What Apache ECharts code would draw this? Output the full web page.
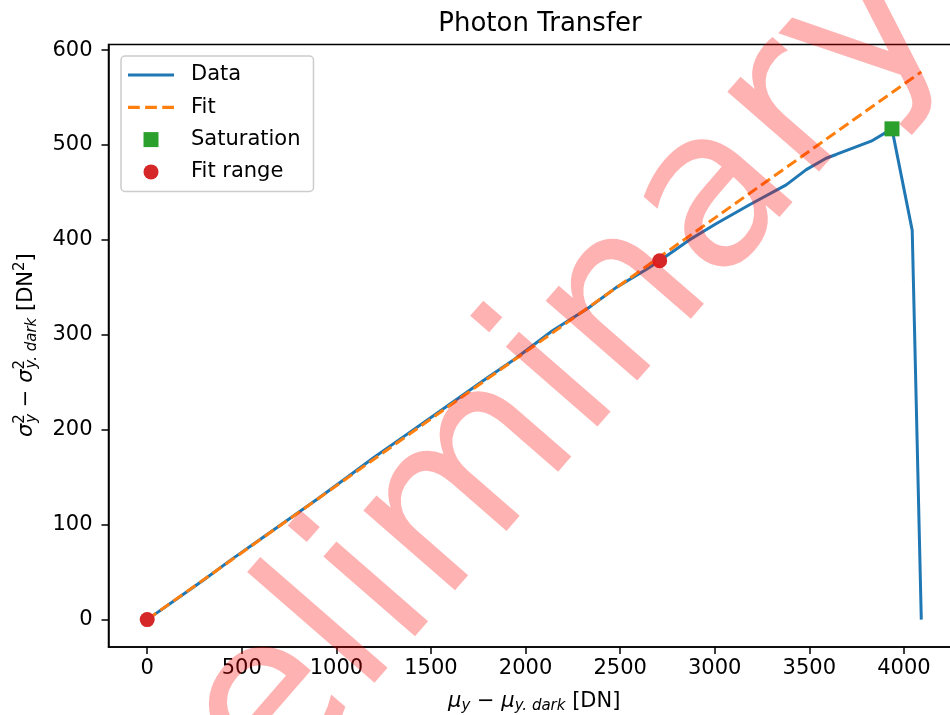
<!DOCTYPE html>
<html>
<head>
<meta charset="utf-8">
<script src="https://cdn.jsdelivr.net/npm/echarts@6/dist/echarts.min.js"></script>
<style>html,body{margin:0;padding:0;background:#fff}#c{width:950px;height:715px}</style>
</head>
<body>
<div id="c"></div>
<script>
// ---- data ----
const dataX = [0, 150, 300, 450, 600, 750, 900, 1050, 1200, 1350, 1500, 1650, 1800, 1940, 2140, 2330, 2480, 2640, 2709, 2866, 3007, 3184, 3378, 3484, 3589, 3642, 3827, 3937, 4044, 4092];
const dataY = [0, 21, 42, 64, 85, 106, 127, 149, 171, 192, 213, 234, 255, 274, 304, 328, 350, 369, 378, 400, 417, 437, 458, 474, 486, 490, 504, 517, 410, 0];
const fitX = [0, 4092];
const fitY = [0, 577];
const saturationX = [3937];
const saturationY = [517];
const fitRangeX = [0, 2709];
const fitRangeY = [0, 378];
const xTicks = [0, 500, 1000, 1500, 2000, 2500, 3000, 3500, 4000];
const yTicks = [0, 100, 200, 300, 400, 500, 600];
const seriesNames = ['Data', 'Fit', 'Saturation', 'Fit range'];
const titleText = 'Photon Transfer';
const watermarkText = 'Preliminary';

const zip = (xs, ys) => xs.map((x, i) => [x, ys[i]]);
const FONT = 'DejaVu Sans';

const chart = echarts.init(document.getElementById('c'), null, {renderer: 'canvas'});

const axisCommon = {
  type: 'value',
  splitLine: {show: false},
  axisLine: {show: true, onZero: false, lineStyle: {color: '#000', width: 1.5}},
  axisTick: {show: true, inside: false, length: 7, lineStyle: {color: '#000', width: 1.5}},
  axisLabel: {color: '#000', fontFamily: FONT, fontSize: 21, formatter: v => String(v)}
};

const richBase = {
  n: {fontFamily: FONT, fontSize: 21, color: '#000'},
  it: {fontFamily: FONT, fontSize: 21, fontStyle: 'italic', color: '#000'},
  sup: {fontFamily: FONT, fontSize: 15, color: '#000', padding: [0, 0, 14, 0], width: 1, align: 'left'},
  sup2: {fontFamily: FONT, fontSize: 15, color: '#000', padding: [0, 0, 14, 0], align: 'left'},
  sub: {fontFamily: FONT, fontSize: 15, fontStyle: 'italic', color: '#000', padding: [10, 0, 0, 0], align: 'left'}
};

chart.setOption({
  animation: false,
  backgroundColor: '#fff',
  title: {
    text: titleText,
    left: 535,
    top: 6,
    textAlign: 'center',
    textStyle: {fontFamily: FONT, fontSize: 26, fontWeight: 'normal', color: '#000'}
  },
  grid: {
    left: 108.5, right: -10, top: 44.5, bottom: 68,
    show: true, borderColor: '#000', borderWidth: 1.5, backgroundColor: 'transparent',
    containLabel: false, outerBoundsMode: 'none'
  },
  legend: {
    orient: 'vertical',
    left: 121, top: 56,
    padding: [8.5, 13, 9, 7],
    itemWidth: 46, itemHeight: 15, itemGap: 11.3,
    symbolKeepAspect: true,
    backgroundColor: 'rgba(255,255,255,0.8)',
    borderColor: '#cccccc', borderWidth: 1.5, borderRadius: 4,
    textStyle: {fontFamily: FONT, fontSize: 21, color: '#000', padding: [0, 0, 0, 12]},
    data: [
      {name: seriesNames[0], icon: 'path://M0,0H46V3H0Z'},
      {name: seriesNames[1], icon: 'path://M0,0H11V3H0Z M16,0H27V3H16Z M32,0H43V3H32Z'},
      {name: seriesNames[2], icon: 'path://M0,0H10V10H0Z'},
      {name: seriesNames[3], icon: 'circle'}
    ],
    selectedMode: false
  },
  xAxis: Object.assign({}, axisCommon, {
    min: -204.6, max: 4296.6,
    axisTick: Object.assign({}, axisCommon.axisTick, {customValues: xTicks}),
    axisLabel: Object.assign({}, axisCommon.axisLabel, {customValues: xTicks, margin: 11}),
    name: '{it|μ}{sub|y}{n| − }{it|μ}{sub|y. dark}{n| [DN]}',
    nameLocation: 'middle',
    nameGap: 42,
    nameTextStyle: {rich: {
      n: richBase.n, it: richBase.it,
      sub: {fontFamily: FONT, fontSize: 15, fontStyle: 'italic', color: '#000', padding: [10, 0, 0, 0]}
    }}
  }),
  yAxis: Object.assign({}, axisCommon, {
    min: -28.85, max: 605.85,
    axisTick: Object.assign({}, axisCommon.axisTick, {customValues: yTicks}),
    axisLabel: Object.assign({}, axisCommon.axisLabel, {customValues: yTicks, margin: 16})
  }),
  series: [
    {
      name: seriesNames[0], type: 'line', data: zip(dataX, dataY),
      symbol: 'none', showSymbol: false,
      lineStyle: {color: '#1f77b4', width: 3}, itemStyle: {color: '#1f77b4'}, z: 2
    },
    {
      name: seriesNames[1], type: 'line', data: zip(fitX, fitY),
      symbol: 'none', showSymbol: false,
      lineStyle: {color: '#ff7f0e', width: 3, type: [11, 5]}, itemStyle: {color: '#ff7f0e'}, z: 3
    },
    {
      name: seriesNames[2], type: 'scatter', data: zip(saturationX, saturationY),
      symbol: 'rect', symbolSize: 15, itemStyle: {color: '#2ca02c', opacity: 1}, z: 4
    },
    {
      name: seriesNames[3], type: 'scatter', data: zip(fitRangeX, fitRangeY),
      symbol: 'circle', symbolSize: 15, itemStyle: {color: '#d62728', opacity: 1}, z: 5
    }
  ],
  graphic: [
    {
      type: 'text',
      x: 27, y: 437,
      rotation: Math.PI / 2,
      silent: true,
      style: {
        text: '{it|σ}{sup|2}{sub|y}{n| − }{it|σ}{sup|2}{sub|y. dark}{n| [DN}{sup2|2}{n|]}',
        rich: richBase,
        fill: '#000',
        align: 'left', verticalAlign: 'middle'
      }
    },
    {
      type: 'text',
      x: 497, y: 454,
      rotation: 49 * Math.PI / 180,
      silent: true,
      z: 100,
      style: {
        text: watermarkText,
        font: '222px "DejaVu Sans"',
        fontSize: 222, fontFamily: FONT,
        fill: 'rgba(255,0,0,0.3)',
        align: 'center', verticalAlign: 'middle'
      }
    }
  ]
});
</script>
</body>
</html>
